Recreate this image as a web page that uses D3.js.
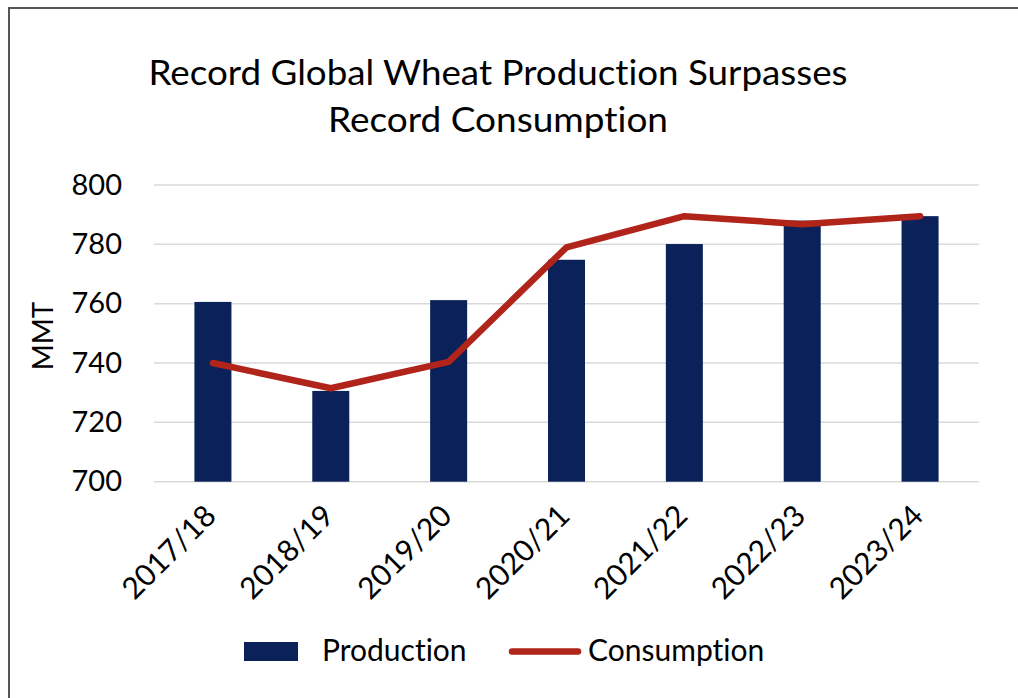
<!DOCTYPE html>
<html>
<head>
<meta charset="utf-8">
<script src="https://cdn.jsdelivr.net/npm/d3@7"></script>
<style>
  html, body { margin: 0; padding: 0; background: #fff; }
  svg { display: block; }
  text { font-family: Lato, "Open Sans", sans-serif; fill: #000; font-variant-ligatures: none; font-feature-settings: "liga" 0; }
</style>
</head>
<body>
<svg id="chart" width="1018" height="698"></svg>
<script>
const categories = ["2017/18", "2018/19", "2019/20", "2020/21", "2021/22", "2022/23", "2023/24"];
const production = [760.6, 730.6, 761.2, 774.8, 780.1, 788.0, 789.5];
const consumption = [740.0, 731.5, 740.4, 779.0, 789.5, 786.8, 789.5];
const yTicks = [700, 720, 740, 760, 780, 800];
const titleLines = ["Record Global Wheat Production Surpasses", "Record Consumption"];
const yLabel = "MMT";
const seriesNames = ["Production", "Consumption"];

const barColor = "#0A2159";
const lineColor = "#B0241A";
const FONT = "Lato, 'Open Sans', sans-serif";

const svg = d3.select("#chart");

// frame
svg.append("path")
  .attr("d", "M9,698 L9,8 L1018,8")
  .attr("fill", "none")
  .attr("stroke", "#555")
  .attr("stroke-width", 2);

// title
const titleLens = [699, 340];
svg.selectAll("text.title").data(titleLines).enter().append("text")
  .attr("class", "title")
  .attr("x", 498)
  .attr("y", (d, i) => 85 + i * 46.5)
  .attr("text-anchor", "middle")
  .attr("textLength", (d, i) => titleLens[i])
  .attr("lengthAdjust", "spacingAndGlyphs")
  .style("font-size", "34px")
  .text(d => d);

const x = d3.scaleBand().domain(categories).range([154, 979]).paddingInner(0.686).paddingOuter(0.343);
const y = d3.scaleLinear().domain([700, 800]).range([481.7, 185]);

// gridlines
svg.append("g").selectAll("line").data(yTicks).enter().append("line")
  .attr("x1", 154).attr("x2", 979)
  .attr("y1", d => y(d)).attr("y2", d => y(d))
  .attr("stroke", "#d9d9d9").attr("stroke-width", 1.5);

// y axis
const yAxis = d3.axisLeft(y).tickValues(yTicks).tickSize(0).tickPadding(0).tickFormat(d3.format("d"));
const gy = svg.append("g").attr("transform", "translate(122,0)").call(yAxis);
gy.select(".domain").remove();
gy.selectAll("text").style("font-size", "29px").style("font-family", FONT).attr("fill", "#000");

// y label
svg.append("text")
  .attr("transform", "translate(53,336) rotate(-90)")
  .attr("text-anchor", "middle")
  .style("font-size", "28px")
  .text(yLabel);

// bars
svg.append("g").selectAll("rect").data(categories).enter().append("rect")
  .attr("x", d => x(d))
  .attr("width", x.bandwidth())
  .attr("y", (d, i) => y(production[i]))
  .attr("height", (d, i) => y(700) - y(production[i]))
  .attr("fill", barColor);

// line
const line = d3.line().x((d, i) => x(categories[i]) + x.bandwidth() / 2).y(d => y(d));
svg.append("path")
  .datum(consumption)
  .attr("d", line)
  .attr("fill", "none")
  .attr("stroke", lineColor)
  .attr("stroke-width", 6.5)
  .attr("stroke-linecap", "round")
  .attr("stroke-linejoin", "round");

// x labels
const xAxis = d3.axisBottom(x).tickSize(0).tickPadding(0);
const gx = svg.append("g").attr("transform", "translate(0,481.7)").call(xAxis);
gx.select(".domain").remove();
gx.selectAll("text")
  .style("font-size", "30px")
  .style("font-family", FONT)
  .attr("fill", "#000")
  .attr("text-anchor", "end")
  .attr("dy", null)
  .attr("y", 0)
  .attr("transform", "translate(5,36) rotate(-45)");

// legend
const lg = svg.append("g");
lg.append("rect").attr("x", 244).attr("y", 642).attr("width", 54).attr("height", 19).attr("fill", barColor);
lg.append("text").attr("x", 322).attr("y", 661).style("font-size", "30px").text(seriesNames[0]);
lg.append("line").attr("x1", 512).attr("x2", 578).attr("y1", 651.5).attr("y2", 651.5)
  .attr("stroke", lineColor).attr("stroke-width", 6.5).attr("stroke-linecap", "round");
lg.append("text").attr("x", 588).attr("y", 661).style("font-size", "30px").text(seriesNames[1]);
</script>
</body>
</html>
